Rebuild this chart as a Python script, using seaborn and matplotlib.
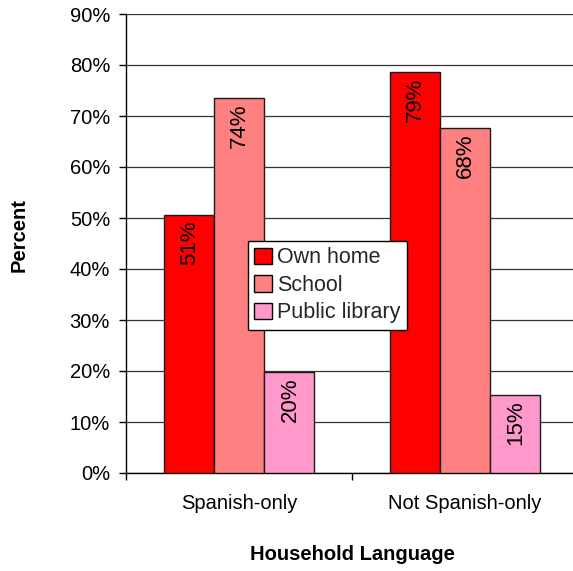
import matplotlib
matplotlib.use("Agg")
import matplotlib.pyplot as plt
import seaborn as sns
import pandas as pd

# ---- data ----
languages = ["Spanish-only", "Not Spanish-only"]
places = ["Own home", "School", "Public library"]
own_home = [50.6, 78.6]
school = [73.6, 67.6]
public_library = [19.8, 15.3]
colors = ["#FF0000", "#FF8080", "#FF99CC"]
y_ticks = [0, 10, 20, 30, 40, 50, 60, 70, 80, 90]

rows = []
for place, vals in zip(places, [own_home, school, public_library]):
    for lang, v in zip(languages, vals):
        rows.append({"Household Language": lang, "Place": place, "Percent": v})
df = pd.DataFrame(rows)

sns.set_theme(style="white")
plt.rcParams["font.family"] = ["Liberation Sans", "DejaVu Sans"]

fig = plt.figure(figsize=(5.73, 5.71), dpi=100)
W, H = 573, 571
left, right, top, bottom = 126, 578, 14, 473
ax = fig.add_axes([left / W, 1 - bottom / H, (right - left) / W, (bottom - top) / H])

sns.barplot(data=df, x="Household Language", y="Percent", hue="Place",
            order=languages, hue_order=places, palette=colors,
            width=0.668, edgecolor="#1a1a1a", linewidth=1, saturation=1,
            errorbar=None, ax=ax, zorder=3)

ax.set_xlim(-0.5, 1.5)
ax.set_ylim(0, 90)
ax.set_yticks(y_ticks)
ax.set_yticklabels([f"{t}%" for t in y_ticks])
ax.yaxis.grid(True, color="#333333", linewidth=0.9, zorder=0)
ax.set_axisbelow(True)

# x ticks: labels at category centers, tick marks at boundaries
ax.set_xticks(range(len(languages)))
ax.set_xticklabels(languages)
ax.set_xticks([-0.5, 0.5, 1.5], minor=True)
ax.tick_params(axis="x", which="major", length=0, pad=15, labelsize=14.5, colors="black")
ax.tick_params(axis="x", which="minor", length=5, width=1, color="black", direction="out", bottom=True)
ax.tick_params(axis="y", which="major", length=5, width=1, color="black", direction="out",
               left=True, pad=6.5, labelsize=14.5, labelcolor="black")

for s in ["top", "right"]:
    ax.spines[s].set_visible(False)
for s in ["left", "bottom"]:
    ax.spines[s].set_color("black")
    ax.spines[s].set_linewidth(1)

ax.set_xlabel("Household Language", fontsize=14.5, fontweight="bold", color="black")
ax.set_ylabel("Percent", fontsize=14.5, fontweight="bold", color="black")
ax.xaxis.set_label_coords(0.5, -0.157)
ax.yaxis.set_label_coords(-0.2146, 0.5185)

# value labels inside bars
for container in ax.containers:
    for bar in container:
        h = bar.get_height()
        ax.annotate(f"{round(h):d}%", xy=(bar.get_x() + bar.get_width() / 2, h),
                    xytext=(0.5, -4), textcoords="offset points",
                    rotation=90, ha="center", va="top", fontsize=16, color="black",
                    zorder=5)

leg = ax.legend(loc="upper left", bbox_to_anchor=(0.27, 0.5054), borderaxespad=0,
                frameon=True, fancybox=False, fontsize=15.5, handlelength=0.8,
                handleheight=0.8, handletextpad=0.25, labelspacing=0.3,
                borderpad=0.3, title=None)
leg.get_frame().set_edgecolor("black")
leg.get_frame().set_linewidth(1)
leg.get_frame().set_alpha(1)
for h in leg.legend_handles:
    h.set_edgecolor("black")
    h.set_linewidth(1)

fig.savefig("out.png", dpi=100)
